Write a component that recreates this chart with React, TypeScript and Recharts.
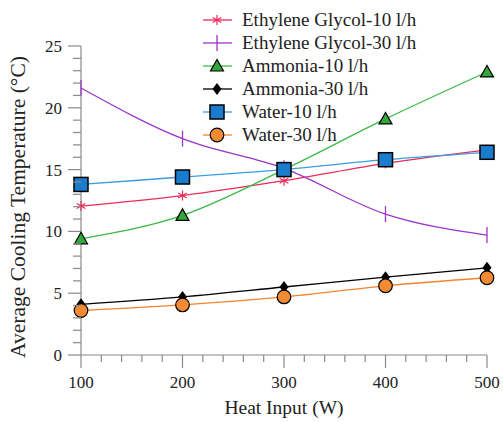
import { LineChart, Line, XAxis, YAxis, Legend, Label } from 'recharts';

const heatInput = [100, 200, 300, 400, 500];
const ethyleneGlycol10 = [12.05, 12.9, 14.1, 15.5, 16.6];
const ethyleneGlycol30 = [21.6, 17.5, 15.1, 11.4, 9.7];
const ammonia10 = [9.4, 11.3, 15.0, 19.1, 22.9];
const ammonia30 = [4.1, 4.7, 5.5, 6.3, 7.05];
const water10 = [13.8, 14.4, 15.0, 15.8, 16.4];
const water30 = [3.6, 4.05, 4.7, 5.6, 6.25];

const xTicks = [100, 120, 140, 160, 180, 200, 220, 240, 260, 280, 300, 320, 340, 360, 380, 400, 420, 440, 460, 480, 500];
const yTicks = [0, 1, 2, 3, 4, 5, 6, 7, 8, 9, 10, 11, 12, 13, 14, 15, 16, 17, 18, 19, 20, 21, 22, 23, 24, 25];

const FONT = '"Liberation Serif", "Times New Roman", serif';
const AXIS = '#8a8a8a';
const TEXT = '#222';

type Shape = 'asterisk' | 'vbar' | 'triangle' | 'diamond' | 'square' | 'circle';

const SERIES: { key: string; name: string; values: number[]; color: string; fill: string; shape: Shape }[] = [
  { key: 'eg10', name: 'Ethylene Glycol-10 l/h', values: ethyleneGlycol10, color: '#ea2a5c', fill: '#ea2a5c', shape: 'asterisk' },
  { key: 'eg30', name: 'Ethylene Glycol-30 l/h', values: ethyleneGlycol30, color: '#9c35c9', fill: '#9c35c9', shape: 'vbar' },
  { key: 'am10', name: 'Ammonia-10 l/h', values: ammonia10, color: '#3cba45', fill: '#33a83a', shape: 'triangle' },
  { key: 'am30', name: 'Ammonia-30 l/h', values: ammonia30, color: '#000000', fill: '#000000', shape: 'diamond' },
  { key: 'w10', name: 'Water-10 l/h', values: water10, color: '#3a9de0', fill: '#1a7ccc', shape: 'square' },
  { key: 'w30', name: 'Water-30 l/h', values: water30, color: '#f5852c', fill: '#f28b34', shape: 'circle' },
];

const data = heatInput.map((x, i) => {
  const row: Record<string, number> = { x };
  SERIES.forEach((s) => {
    row[s.key] = s.values[i];
  });
  return row;
});

function Marker({ shape, cx, cy, color, fill }: { shape: Shape; cx: number; cy: number; color: string; fill: string }) {
  switch (shape) {
    case 'asterisk': {
      const r = 5;
      const dx = r * 0.866;
      const dy = r * 0.5;
      return (
        <g stroke={color} strokeWidth={1.2}>
          <line x1={cx} y1={cy - r} x2={cx} y2={cy + r} />
          <line x1={cx - dx} y1={cy - dy} x2={cx + dx} y2={cy + dy} />
          <line x1={cx - dx} y1={cy + dy} x2={cx + dx} y2={cy - dy} />
        </g>
      );
    }
    case 'vbar':
      return <line x1={cx} y1={cy - 8} x2={cx} y2={cy + 8} stroke={color} strokeWidth={1.3} />;
    case 'triangle':
      return (
        <polygon
          points={`${cx},${cy - 6.5} ${cx - 6.5},${cy + 5} ${cx + 6.5},${cy + 5}`}
          fill={fill}
          stroke="#000"
          strokeWidth={1.2}
        />
      );
    case 'diamond':
      return <polygon points={`${cx},${cy - 6} ${cx + 4.5},${cy} ${cx},${cy + 6} ${cx - 4.5},${cy}`} fill="#000" />;
    case 'square':
      return <rect x={cx - 7} y={cy - 7} width={14} height={14} fill={fill} stroke="#000" strokeWidth={1.5} />;
    case 'circle':
    default:
      return <circle cx={cx} cy={cy} r={6.8} fill={fill} stroke="#000" strokeWidth={1.2} />;
  }
}

function XTick(props: any) {
  const { x, y, payload } = props;
  const major = payload.value % 100 === 0;
  return (
    <g>
      <line x1={x} x2={x} y1={y} y2={y + (major ? 13 : 7)} stroke={AXIS} strokeWidth={1.2} />
      {major && (
        <text x={x} y={y + 33} textAnchor="middle" fontFamily={FONT} fontSize={17} fill={TEXT}>
          {payload.value}
        </text>
      )}
    </g>
  );
}

function YTick(props: any) {
  const { x, y, payload } = props;
  const major = payload.value % 5 === 0;
  return (
    <g>
      <line x1={x - (major ? 13 : 8)} x2={x} y1={y} y2={y} stroke={AXIS} strokeWidth={1.2} />
      {major && (
        <text x={x - 19} y={y + 6} textAnchor="end" fontFamily={FONT} fontSize={17} fill={TEXT}>
          {payload.value}
        </text>
      )}
    </g>
  );
}

function LegendBox() {
  return (
    <svg width={313} height={150} style={{ display: 'block' }}>
      {SERIES.map((s, i) => {
        const cy = 20 + i * 23;
        return (
          <g key={s.key}>
            <line x1={13} x2={42} y1={cy} y2={cy} stroke={s.color} strokeWidth={1.3} />
            <Marker shape={s.shape} cx={27} cy={cy} color={s.color} fill={s.fill} />
            <text x={52} y={cy + 6} fontFamily={FONT} fontSize={19} fill={TEXT}>
              {s.name}
            </text>
          </g>
        );
      })}
    </svg>
  );
}

export default function App() {
  return (
    <div style={{ position: 'absolute', left: 0, top: 0, width: 503, height: 422, background: '#fff' }}>
      <LineChart width={503} height={422} data={data} margin={{ top: 46, right: 16, bottom: 0, left: 0 }}>
        <XAxis
          dataKey="x"
          type="number"
          domain={[100, 500]}
          ticks={xTicks}
          interval={0}
          tickSize={0}
          tickMargin={0}
          tickLine={false}
          tick={<XTick />}
          height={67}
          stroke={AXIS}
          strokeWidth={1.2}
        >
          <Label
            content={() => (
              <text x={284} y={414} textAnchor="middle" fontFamily={FONT} fontSize={19.5} fill={TEXT}>
                Heat Input (W)
              </text>
            )}
          />
        </XAxis>
        <YAxis
          type="number"
          domain={[0, 25]}
          ticks={yTicks}
          interval={0}
          tickSize={0}
          tickMargin={0}
          tickLine={false}
          tick={<YTick />}
          width={81}
          stroke={AXIS}
          strokeWidth={1.2}
        >
          <Label
            content={() => (
              <text
                x={25}
                y={207}
                transform="rotate(-90 25 207)"
                textAnchor="middle"
                fontFamily={FONT}
                fontSize={21.5}
                fill={TEXT}
              >
                Average Cooling Temperature (°C)
              </text>
            )}
          />
        </YAxis>
        <Legend
          layout="vertical"
          align="center"
          verticalAlign="middle"
          content={() => <LegendBox />}
          wrapperStyle={{ left: 190, top: 0, width: 313, height: 150 }}
        />
        {SERIES.map((s) => (
          <Line
            key={s.key}
            dataKey={s.key}
            name={s.name}
            type="monotone"
            stroke={s.color}
            strokeWidth={1.3}
            isAnimationActive={false}
            activeDot={false}
            dot={(p: any) => (
              <Marker key={`${s.key}-${p.index}`} shape={s.shape} cx={p.cx} cy={p.cy} color={s.color} fill={s.fill} />
            )}
          />
        ))}
      </LineChart>
    </div>
  );
}
